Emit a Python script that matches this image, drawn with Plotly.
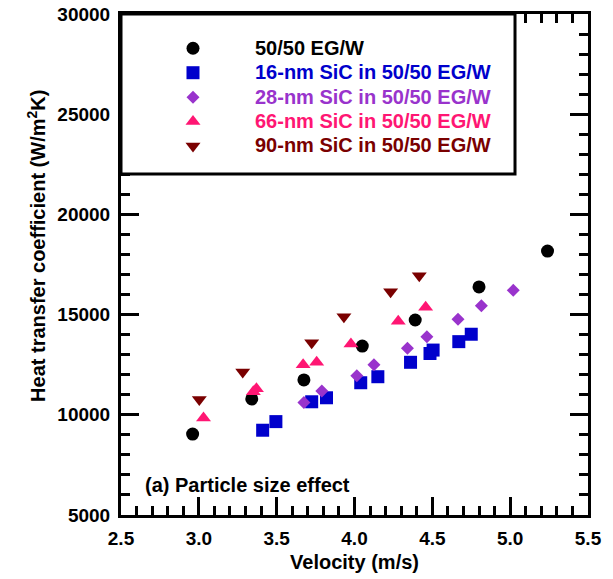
import plotly.graph_objects as go

# Velocity (m/s) and heat transfer coefficient (W/m^2K) for each fluid
v_base = [2.96, 3.34, 3.675, 4.05, 4.39, 4.80, 5.24]
h_base = [9040, 10790, 11740, 13430, 14730, 16380, 18170]

v_16 = [3.41, 3.495, 3.725, 3.82, 4.04, 4.15, 4.36, 4.485, 4.505, 4.67, 4.75]
h_16 = [9230, 9660, 10650, 10850, 11600, 11900, 12620, 13060, 13230, 13650, 14020]

v_28 = [3.675, 3.79, 4.015, 4.125, 4.34, 4.465, 4.665, 4.815, 5.02]
h_28 = [10620, 11190, 11950, 12500, 13320, 13900, 14770, 15440, 16210]

v_66 = [3.03, 3.35, 3.37, 3.67, 3.757, 3.977, 4.281, 4.457]
h_66 = [9835, 11150, 11300, 12495, 12625, 13538, 14671, 15369]

v_90 = [3.003, 3.282, 3.725, 3.932, 4.232, 4.416]
h_90 = [10760, 12136, 13593, 14890, 16138, 16936]

names = ["50/50 EG/W", "16-nm SiC in 50/50 EG/W", "28-nm SiC in 50/50 EG/W",
         "66-nm SiC in 50/50 EG/W", "90-nm SiC in 50/50 EG/W"]
colors = ["#000000", "#0000CC", "#9933CC", "#FF1673", "#7A0000"]
symbols = ["circle", "square", "diamond", "triangle-up", "triangle-down"]
sizes = [13, 13, 10, 13, 13]
xs = [v_base, v_16, v_28, v_66, v_90]
ys = [h_base, h_16, h_28, h_66, h_90]

FONT = "Liberation Sans, Arial, sans-serif"

fig = go.Figure()
for x, y, n, c, s, sz in zip(xs, ys, names, colors, symbols, sizes):
    fig.add_trace(go.Scatter(
        x=x, y=y, mode="markers",
        name=f"<span style='color:{c};font-size:20px'>{n}</span>",
        marker=dict(symbol=s, size=sz, color=c, line=dict(width=0)),
    ))

axis_common = dict(
    showline=True, linewidth=3, linecolor="black", mirror="allticks",
    ticks="inside", ticklen=18, tickwidth=2.5, tickcolor="black",
    showgrid=False, zeroline=False, automargin=False,
    tickfont=dict(family=FONT, size=19, color="black", weight="bold"),
)

fig.update_xaxes(
    range=[2.5, 5.5], tick0=2.5, dtick=0.5, tickformat=".1f",
    minor=dict(dtick=0.1, ticks="inside", ticklen=9, tickwidth=2.5,
               tickcolor="black", showgrid=False),
    ticklabelstandoff=4,
    title=dict(text="Velocity (m/s)", standoff=8,
               font=dict(family=FONT, size=20, color="black", weight="bold")),
    **axis_common,
)
fig.update_yaxes(
    range=[5000, 30000], tick0=5000, dtick=5000, tickformat="d",
    minor=dict(dtick=1000, ticks="inside", ticklen=9, tickwidth=2.5,
               tickcolor="black", showgrid=False),
    ticklabelstandoff=4,
    **axis_common,
)

fig.add_shape(type="rect", xref="paper", yref="paper",
              x0=0, x1=0.8437, y0=0.6806, y1=1.0,
              line=dict(color="black", width=3), fillcolor="white", layer="above")

fig.add_annotation(
    text="Heat transfer coefficient (W/m<sup>2</sup>K)", textangle=-90,
    xref="paper", yref="paper", x=-0.18, y=0.537,
    xanchor="center", yanchor="middle", showarrow=False,
    font=dict(family=FONT, size=20, color="black", weight="bold"),
)
fig.add_annotation(
    text="(a) Particle size effect",
    xref="paper", yref="paper", x=0.0465, y=0.06,
    xanchor="left", yanchor="middle", showarrow=False,
    font=dict(family=FONT, size=20, color="black", weight="bold"),
)

fig.update_layout(
    width=613, height=579,
    margin=dict(l=121, r=25, t=14, b=64),
    paper_bgcolor="white", plot_bgcolor="white",
    showlegend=True,
    legend=dict(
        x=0.0214, y=0.966, xanchor="left", yanchor="top",
        bgcolor="rgba(0,0,0,0)", borderwidth=0,
        itemwidth=114, itemsizing="trace",
        font=dict(family=FONT, size=16.5, color="black", weight="bold"),
    ),
)

fig.write_html("out.html")
